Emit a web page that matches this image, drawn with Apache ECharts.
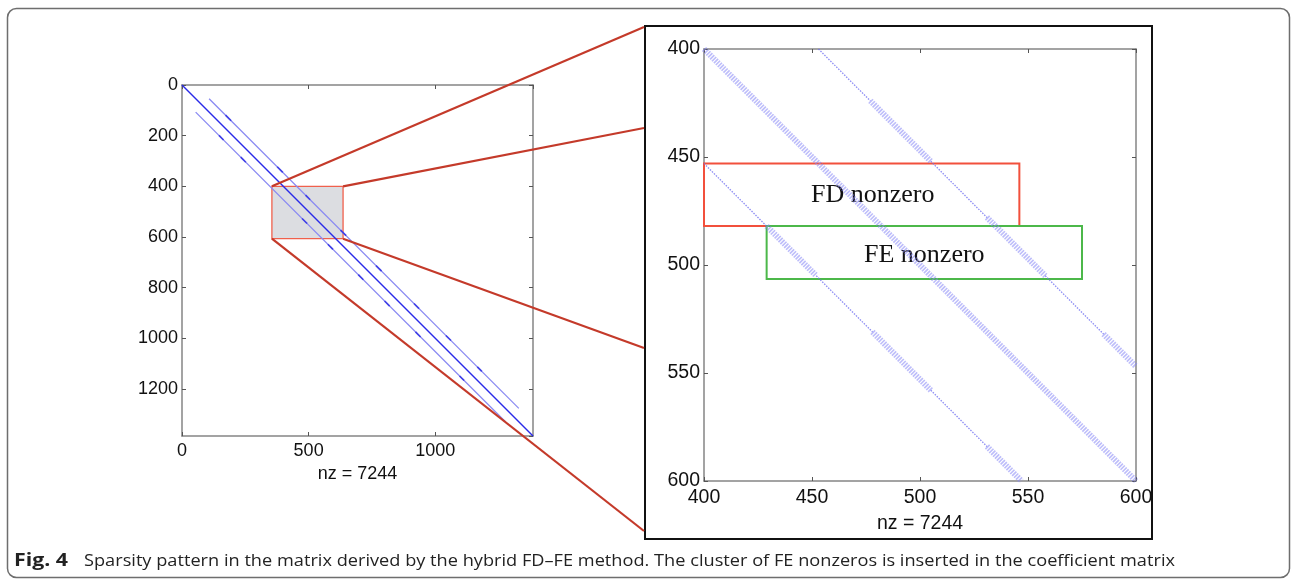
<!DOCTYPE html>
<html><head><meta charset="utf-8">
<script src="https://cdn.jsdelivr.net/npm/echarts@6/dist/echarts.min.js"></script>
<style>html,body{margin:0;padding:0;background:#fff;}#c{width:1292px;height:580px;}</style>
</head><body><div id="c"></div>
<script>
// ---------- data ----------
const matrixSize = 1386;
const nzLabel = 'nz = 7244';
const leftXTicks = [0, 500, 1000];
const leftYTicks = [0, 200, 400, 600, 800, 1000, 1200];
const zoomXTicks = [400, 450, 500, 550, 600];
const zoomYTicks = [400, 450, 500, 550, 600];
// overview: [col,row] endpoints of bands
const leftMainDiag = [[[0, 0], [1386, 1386]]];
const leftSideBands = [[[107, 54], [1330, 1277]], [[54, 107], [1277, 1330]]];
const leftDarkDashes = [
  [[172, 119], [194, 141]], [[376, 323], [398, 345]], [[488, 435], [506, 453]], [[626, 573], [648, 595]],
  [[766, 713], [788, 735]], [[916, 863], [936, 883]], [[1042, 989], [1062, 1009]], [[1166, 1113], [1184, 1131]],
  [[146, 199], [164, 217]], [[232, 285], [252, 305]], [[474, 527], [494, 547]], [[576, 629], [596, 649]],
  [[696, 749], [716, 769]], [[800, 853], [820, 873]], [[922, 975], [942, 995]], [[1096, 1149], [1114, 1167]]
];
const zoomRect = [[355, 400], [636, 607]];
// zoomed view: thick (FE-like) and thin (FD-like) band segments
const zoomThick = [
  [[400, 400], [600, 600]],
  [[477, 424], [505, 452]], [[531, 478], [558, 505]], [[585, 532], [600, 547]],
  [[429, 482], [452, 505]], [[478, 531], [505, 558]], [[531, 584], [547, 600]]
];
const zoomThin = [
  [[453, 400], [477, 424]], [[505, 452], [531, 478]], [[558, 505], [585, 532]],
  [[400, 453], [429, 482]], [[452, 505], [478, 531]], [[505, 558], [531, 584]]
];
const fdBox = [[400, 453], [546, 482]];
const feBox = [[429, 482], [575, 506.5]];
const fdText = 'FD nonzero';
const feText = 'FE nonzero';
const captionLead = 'Fig. 4';
const captionBody = 'Sparsity pattern in the matrix derived by the hybrid FD\u2013FE method. The cluster of FE nonzeros is inserted in the coefficient matrix';

// ---------- chart ----------
const SANS = '"Liberation Sans", Arial, sans-serif';
const SERIF = '"Liberation Serif", "Times New Roman", serif';
const axisLineStyle = {color: '#858585', width: 1.5};
const plain = v => String(v);

function xAx(grid, min, max, interval, pos, fs, gap, name) {
  return {
    gridIndex: grid, type: 'value', min: min, max: max, interval: interval, position: pos,
    axisLine: {show: true, onZero: false, lineStyle: axisLineStyle},
    axisTick: {show: true, inside: true, length: 4, lineStyle: {color: '#555', width: 1}},
    axisLabel: {show: pos === 'bottom', showMaxLabel: max % interval === 0, margin: gap, fontSize: fs, color: '#111', fontFamily: SANS, formatter: plain},
    splitLine: {show: false},
    name: name || '', nameLocation: 'middle', nameGap: name ? (grid === 0 ? 26 : 33) : 0,
    nameTextStyle: {fontSize: fs, color: '#111', fontFamily: SANS}
  };
}
function yAx(grid, min, max, interval, pos, fs, gap) {
  return {
    gridIndex: grid, type: 'value', min: min, max: max, interval: interval, position: pos, inverse: true,
    axisLine: {show: true, onZero: false, lineStyle: axisLineStyle},
    axisTick: {show: true, inside: true, length: 4, lineStyle: {color: '#555', width: 1}},
    axisLabel: {show: pos === 'left', showMaxLabel: max % interval === 0, margin: gap, fontSize: fs, color: '#111', fontFamily: SANS, formatter: plain},
    splitLine: {show: false}
  };
}
const toLines = arr => arr.map(s => ({coords: s}));

const chart = echarts.init(document.getElementById('c'));
const option = {
  animation: false,
  backgroundColor: '#fff',
  grid: [
    {left: 182, top: 85, width: 351, height: 351},
    {left: 704, top: 49, width: 432, height: 432}
  ],
  xAxis: [
    xAx(0, 0, matrixSize, 500, 'bottom', 18, 6, nzLabel),
    xAx(0, 0, matrixSize, 500, 'top', 18, 6),
    xAx(1, 400, 600, 50, 'bottom', 19.5, 7, nzLabel),
    xAx(1, 400, 600, 50, 'top', 19.5, 7)
  ],
  yAxis: [
    yAx(0, 0, matrixSize, 200, 'left', 18, 4),
    yAx(0, 0, matrixSize, 200, 'right', 18, 4),
    yAx(1, 400, 600, 50, 'left', 19.5, 4),
    yAx(1, 400, 600, 50, 'right', 19.5, 4)
  ],
  series: [
    {type: 'scatter', xAxisIndex: 0, yAxisIndex: 0, data: [], z: 1, silent: true,
     markArea: {silent: true, itemStyle: {color: '#dcdde1', borderColor: '#f0604c', borderWidth: 1.3},
       data: [[{coord: zoomRect[0]}, {coord: zoomRect[1]}]]}},
    {type: 'lines', coordinateSystem: 'cartesian2d', xAxisIndex: 0, yAxisIndex: 0, z: 3, silent: true,
     lineStyle: {color: '#8a8af2', width: 1.3, opacity: 1}, data: toLines(leftSideBands)},
    {type: 'lines', coordinateSystem: 'cartesian2d', xAxisIndex: 0, yAxisIndex: 0, z: 4, silent: true,
     lineStyle: {color: '#4040e6', width: 1.6, opacity: 1}, data: toLines(leftDarkDashes)},
    {type: 'lines', coordinateSystem: 'cartesian2d', xAxisIndex: 0, yAxisIndex: 0, z: 4, silent: true,
     lineStyle: {color: '#2a2ae8', width: 1.4, opacity: 1}, data: toLines(leftMainDiag)},
    {type: 'lines', coordinateSystem: 'cartesian2d', xAxisIndex: 2, yAxisIndex: 2, z: 3, silent: true,
     lineStyle: {color: 'rgba(135,135,245,0.55)', width: 6, type: [1.6, 1.1], opacity: 1}, data: toLines(zoomThick)},
    {type: 'lines', coordinateSystem: 'cartesian2d', xAxisIndex: 2, yAxisIndex: 2, z: 3, silent: true,
     lineStyle: {color: 'rgba(110,110,240,0.8)', width: 1.3, type: [1.5, 1.3], opacity: 1}, data: toLines(zoomThin)},
    {type: 'scatter', xAxisIndex: 2, yAxisIndex: 2, data: [], z: 5, silent: true,
     markArea: {silent: true,
       data: [
         [{coord: fdBox[0], itemStyle: {color: 'rgba(0,0,0,0)', borderColor: '#f2503c', borderWidth: 2},
           label: {show: true, position: 'inside', offset: [11, 0], formatter: fdText, fontFamily: SERIF, fontSize: 26, color: '#111'}},
          {coord: fdBox[1]}],
         [{coord: feBox[0], itemStyle: {color: 'rgba(0,0,0,0)', borderColor: '#4cb84a', borderWidth: 2},
           label: {show: true, position: 'inside', offset: [0, 3], formatter: feText, fontFamily: SERIF, fontSize: 26, color: '#111'}},
          {coord: feBox[1]}]
       ]}}
  ]
};
chart.setOption(option);

// ---------- annotations ----------
const p = c => chart.convertToPixel({gridIndex: 0}, c);
const rTL = p([zoomRect[0][0], zoomRect[0][1]]);
const rTR = p([zoomRect[1][0], zoomRect[0][1]]);
const rBR = p([zoomRect[1][0], zoomRect[1][1]]);
const rBL = p([zoomRect[0][0], zoomRect[1][1]]);
const frame = {x: 645, y: 26, w: 507, h: 513};
const ends = [[644, 27], [644, 128], [644, 348], [644, 531]];
const starts = [rTL, rTR, rBR, rBL];
const redLines = starts.map((s, i) => ({
  type: 'line', z: 20, silent: true,
  shape: {x1: s[0], y1: s[1], x2: ends[i][0], y2: ends[i][1]},
  style: {stroke: '#c43a2a', lineWidth: 2.2}
}));

const ctx = document.createElement('canvas').getContext('2d');
const bodyFont = '17px "Open Sans"';
ctx.font = bodyFont;
const bodyScale = (1175 - 84) / ctx.measureText(captionBody).width;
ctx.font = 'bold 17px "Open Sans"';
const leadScale = (68 - 14) / ctx.measureText(captionLead).width;

chart.setOption({
  graphic: [
    {type: 'rect', silent: true, z: 0,
     shape: {x: 7.5, y: 8.5, width: 1282, height: 569, r: 9},
     style: {fill: 'none', stroke: '#6e6e6e', lineWidth: 1.5}},
    {type: 'rect', silent: true, z: 15,
     shape: {x: frame.x, y: frame.y, width: frame.w, height: frame.h},
     style: {fill: 'none', stroke: '#111', lineWidth: 2}},
    ...redLines,
    {type: 'text', silent: true, x: 14, y: 561, scaleX: leadScale, z: 20,
     style: {text: captionLead, font: 'bold 17px "Open Sans"', fill: '#222', verticalAlign: 'middle', align: 'left'}},
    {type: 'text', silent: true, x: 84, y: 561, scaleX: bodyScale, z: 20,
     style: {text: captionBody, font: bodyFont, fill: '#222', verticalAlign: 'middle', align: 'left'}}
  ]
});
</script></body></html>
